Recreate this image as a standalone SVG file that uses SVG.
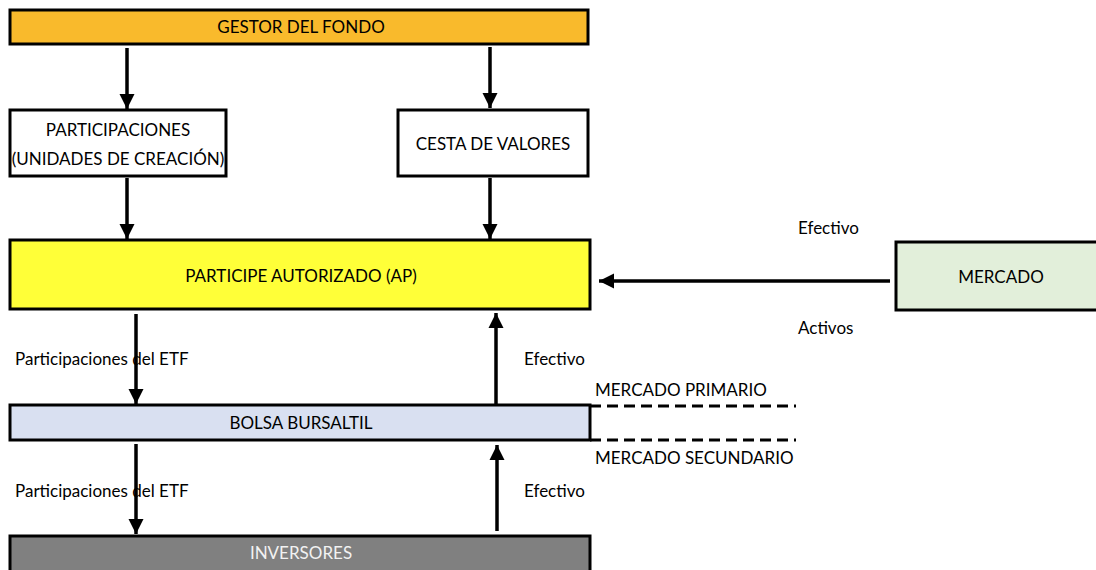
<svg xmlns="http://www.w3.org/2000/svg" width="1096" height="570" viewBox="0 0 1096 570">
<defs>
<marker id="ah" viewBox="0 0 10 10" refX="10" refY="5" markerWidth="4.3" markerHeight="4.3" orient="auto" markerUnits="strokeWidth">
<path d="M0,0 L10,5 L0,10 z" fill="#000"/>
</marker>
<style>
.box{stroke:#000;stroke-width:3}
.t{font-family:Lato,"Liberation Sans",sans-serif;font-size:17px;fill:#000}
.c{text-anchor:middle}
.ar{stroke:#000;stroke-width:3.5;fill:none;marker-end:url(#ah)}
.dash{stroke:#000;stroke-width:3;stroke-dasharray:11,6;fill:none}
</style>
</defs>
<rect width="1096" height="570" fill="#fff"/>
<g id="gestor"><rect class="box" x="10" y="10" width="578" height="34" fill="#F9BA2C"/><text class="t c" x="301" y="33">GESTOR DEL FONDO</text></g>
<g id="participaciones"><rect class="box" x="10" y="110" width="216" height="66" fill="#fff"/><text class="t c" x="118" y="136">PARTICIPACIONES</text><text class="t c" x="118" y="165">(UNIDADES DE CREACIÓN)</text></g>
<g id="cesta"><rect class="box" x="398" y="110" width="190" height="66" fill="#fff"/><text class="t c" x="493" y="150">CESTA DE VALORES</text></g>
<g id="ap"><rect class="box" x="10" y="240" width="580" height="69" fill="#FFFF38"/><text class="t c" x="301" y="282">PARTICIPE AUTORIZADO (AP)</text></g>
<g id="mercado"><rect class="box" x="896" y="242" width="204" height="68" fill="#E2EFDA"/><text class="t c" x="1001" y="283">MERCADO</text></g>
<g id="bolsa"><rect class="box" x="10" y="405" width="580" height="35" fill="#D9E0F1"/><text class="t c" x="301" y="429">BOLSA BURSALTIL</text></g>
<g id="inversores"><rect class="box" x="10" y="536" width="580" height="40" fill="#808080"/><text class="t c" x="301" y="559" style="fill:#f2f2f2">INVERSORES</text></g>
<g id="connectors">
<line class="ar" x1="127" y1="48" x2="127" y2="109"/>
<line class="ar" x1="490" y1="47" x2="490" y2="108"/>
<line class="ar" x1="127" y1="178" x2="127" y2="239"/>
<line class="ar" x1="490" y1="178" x2="490" y2="239"/>
<line class="ar" x1="890" y1="281" x2="599" y2="281"/>
<line class="ar" x1="136" y1="314" x2="136" y2="404"/>
<line class="ar" x1="496" y1="404" x2="496" y2="313"/>
<line class="ar" x1="136" y1="444" x2="136" y2="534"/>
<line class="ar" x1="497" y1="531" x2="497" y2="445"/>
<line class="dash" x1="590" y1="406" x2="796" y2="406"/>
<line class="dash" x1="590" y1="440" x2="796" y2="440"/>
</g>
<g id="labels">
<text class="t" x="798" y="234">Efectivo</text>
<text class="t" x="798" y="334">Activos</text>
<text class="t" x="15" y="365">Participaciones del ETF</text>
<text class="t" x="524" y="365">Efectivo</text>
<text class="t" x="595" y="396">MERCADO PRIMARIO</text>
<text class="t" x="595" y="464">MERCADO SECUNDARIO</text>
<text class="t" x="15" y="497">Participaciones del ETF</text>
<text class="t" x="524" y="497">Efectivo</text>
</g>
</svg>
